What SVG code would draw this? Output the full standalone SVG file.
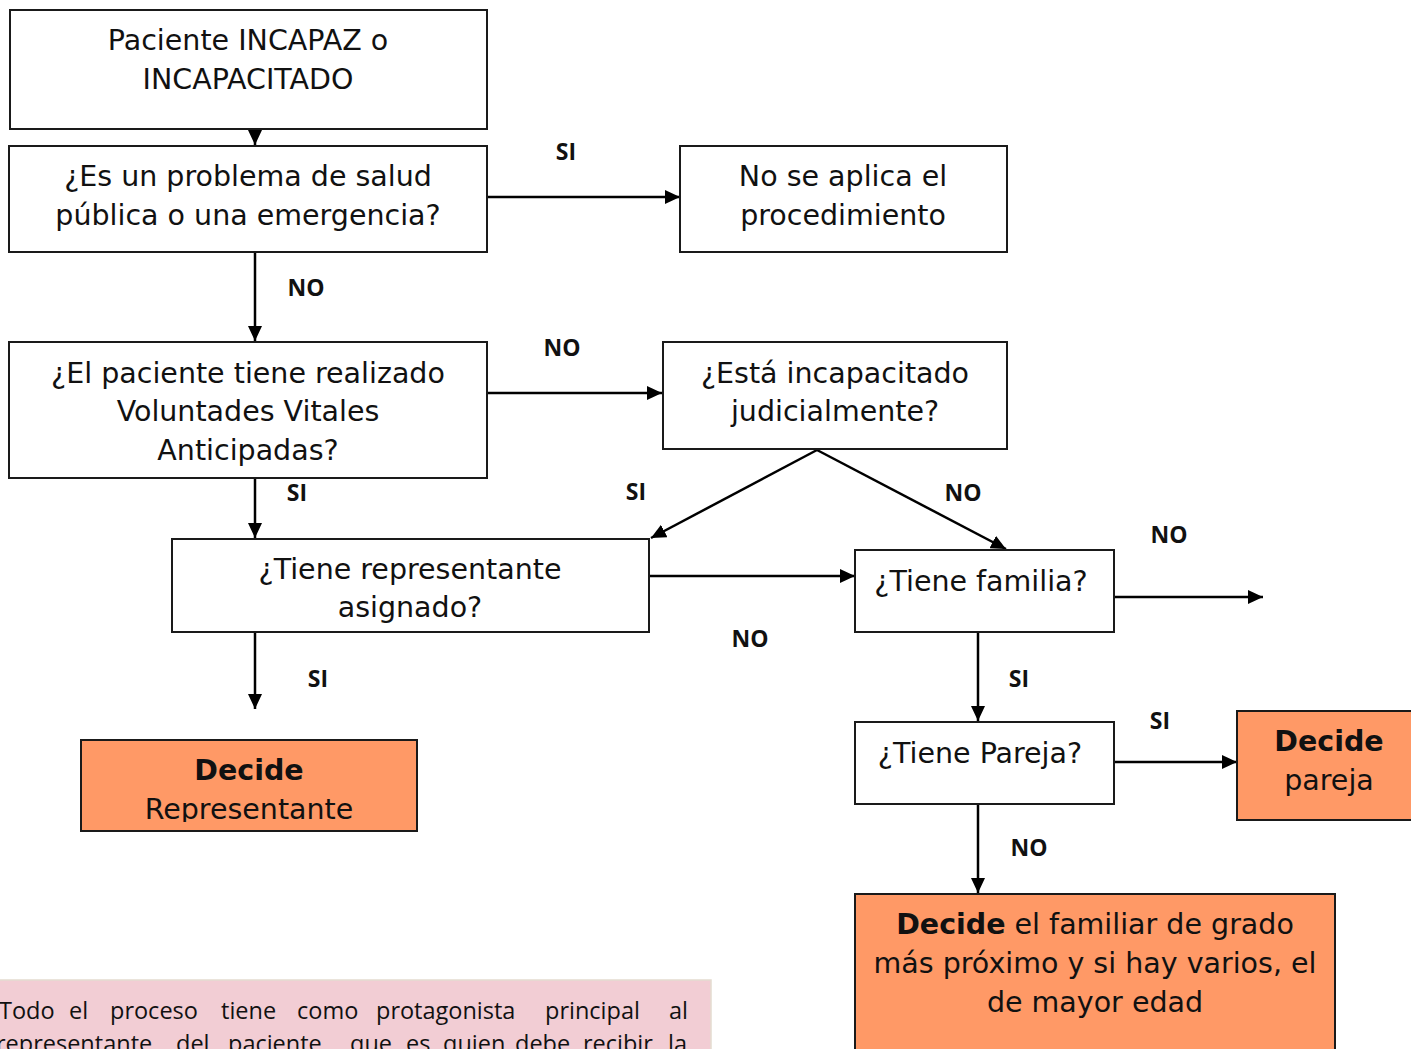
<svg xmlns="http://www.w3.org/2000/svg" width="1411" height="1049" viewBox="0 0 1411 1049">
<style>
.box{fill:#fff;stroke:#1a1a1a;stroke-width:2}
.dec{fill:#FF9966;stroke:#1a1a1a;stroke-width:2}
.t{font-family:"DejaVu Sans","Liberation Sans",sans-serif;font-size:28.5px;fill:#111;text-anchor:middle}
.b{font-weight:bold}
.lbl{font-family:"Open Sans","Liberation Sans",sans-serif;font-size:23px;font-weight:bold;fill:#111;text-anchor:middle}
.c{stroke:#000;stroke-width:2.5;fill:none;marker-end:url(#ah)}
.note{font-family:"Open Sans","Liberation Sans",sans-serif;font-size:23.5px;fill:#111}
</style>
<defs>
<marker id="ah" markerUnits="userSpaceOnUse" markerWidth="16" markerHeight="14" refX="15" refY="7" orient="auto"><path d="M0,0 L15,7 L0,14 z" fill="#000"/></marker>
<clipPath id="clip7"><rect x="81" y="740" width="336" height="82"/></clipPath>
</defs>
<rect width="1411" height="1049" fill="#fff"/>
<g id="connectors">
<line class="c" x1="255" y1="129" x2="255" y2="145"/>
<line class="c" x1="487" y1="197" x2="680" y2="197"/>
<line class="c" x1="255" y1="252" x2="255" y2="341"/>
<line class="c" x1="487" y1="393" x2="662" y2="393"/>
<line class="c" x1="817" y1="450" x2="651" y2="538"/>
<line class="c" x1="817" y1="450" x2="1006" y2="549"/>
<line class="c" x1="255" y1="478" x2="255" y2="538"/>
<line class="c" x1="649" y1="576" x2="855" y2="576"/>
<line class="c" x1="255" y1="620" x2="255" y2="709"/>
<line class="c" x1="1114" y1="597" x2="1263" y2="597"/>
<line class="c" x1="978" y1="632" x2="978" y2="721"/>
<line class="c" x1="1114" y1="762" x2="1237" y2="762"/>
<line class="c" x1="978" y1="804" x2="978" y2="893"/>
<text class="lbl" x="566" y="160">SI</text>
<text class="lbl" x="306" y="296">NO</text>
<text class="lbl" x="562" y="356">NO</text>
<text class="lbl" x="297" y="501">SI</text>
<text class="lbl" x="636" y="500">SI</text>
<text class="lbl" x="963" y="501">NO</text>
<text class="lbl" x="1169" y="543">NO</text>
<text class="lbl" x="750" y="647">NO</text>
<text class="lbl" x="318" y="687">SI</text>
<text class="lbl" x="1019" y="687">SI</text>
<text class="lbl" x="1160" y="729">SI</text>
<text class="lbl" x="1029" y="856">NO</text>
</g>
<g id="n1"><rect class="box" x="10" y="10" width="477" height="119"/>
<text class="t" x="248" y="50">Paciente INCAPAZ o</text><text class="t" x="248" y="89">INCAPACITADO</text></g>
<g id="n2"><rect class="box" x="9" y="146" width="478" height="106"/>
<text class="t" x="248" y="186">¿Es un problema de salud</text><text class="t" x="248" y="225">pública o una emergencia?</text></g>
<g id="n3"><rect class="box" x="680" y="146" width="327" height="106"/>
<text class="t" x="843" y="186">No se aplica el</text><text class="t" x="843" y="225">procedimiento</text></g>
<g id="n4"><rect class="box" x="9" y="342" width="478" height="136"/>
<text class="t" x="248" y="383">¿El paciente tiene realizado</text><text class="t" x="248" y="421">Voluntades Vitales</text><text class="t" x="248" y="460">Anticipadas?</text></g>
<g id="n5"><rect class="box" x="663" y="342" width="344" height="107"/>
<text class="t" x="835" y="383">¿Está incapacitado</text><text class="t" x="835" y="421">judicialmente?</text></g>
<g id="n6"><rect class="box" x="172" y="539" width="477" height="93"/>
<text class="t" x="410" y="579">¿Tiene representante</text><text class="t" x="410" y="617">asignado?</text></g>
<g id="n7"><rect class="dec" x="81" y="740" width="336" height="91"/>
<g clip-path="url(#clip7)"><text class="t b" x="249" y="780">Decide</text><text class="t" x="249" y="819">Representante</text></g></g>
<g id="n8"><rect class="box" x="855" y="550" width="259" height="82"/>
<text class="t" x="981" y="591">¿Tiene familia?</text></g>
<g id="n9"><rect class="box" x="855" y="722" width="259" height="82"/>
<text class="t" x="980" y="763">¿Tiene Pareja?</text></g>
<g id="n10"><rect class="dec" x="1237" y="711" width="180" height="109"/>
<text class="t b" x="1329" y="751">Decide</text><text class="t" x="1329" y="790">pareja</text></g>
<g id="n11"><rect class="dec" x="855" y="894" width="480" height="170"/>
<text class="t" x="1095" y="934"><tspan class="b">Decide</tspan> el familiar de grado</text>
<text class="t" x="1095" y="973">más próximo y si hay varios, el</text>
<text class="t" x="1095" y="1012">de mayor edad</text></g>
<g id="note"><rect x="-2" y="980" width="713" height="80" fill="#F2CDD4" stroke="#E4DCD0" stroke-width="1.5"/>
<text class="note" y="1019"><tspan x="-1">Todo</tspan><tspan x="69">el</tspan><tspan x="110">proceso</tspan><tspan x="221">tiene</tspan><tspan x="297">como</tspan><tspan x="376">protagonista</tspan><tspan x="545">principal</tspan><tspan x="669">al</tspan></text>
<text class="note" y="1052"><tspan x="-4">representante</tspan><tspan x="176">del</tspan><tspan x="228">paciente,</tspan><tspan x="350">que</tspan><tspan x="406">es</tspan><tspan x="443">quien</tspan><tspan x="515">debe</tspan><tspan x="583">recibir</tspan><tspan x="668">la</tspan></text></g>
</svg>
